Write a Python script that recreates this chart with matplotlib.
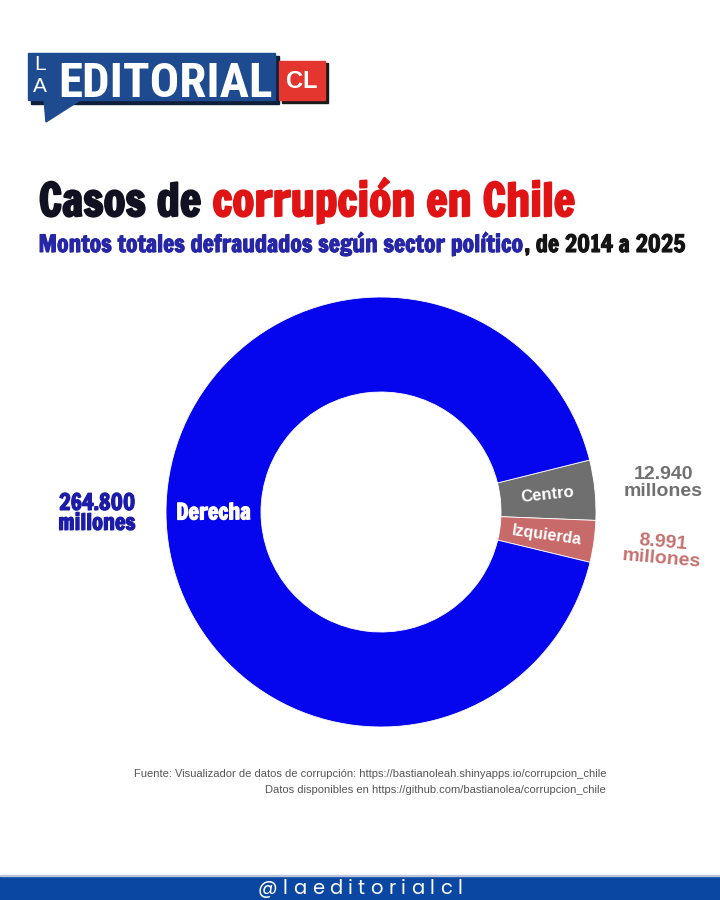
import matplotlib
matplotlib.use("Agg")
import numpy as np
import matplotlib.pyplot as plt
import matplotlib.patheffects as pe
from matplotlib.patches import Rectangle, Polygon

W, H = 720, 900

# data
sectors = ["Centro", "Izquierda", "Derecha"]
amounts = [12940, 8991, 264800]  # millones de pesos
amount_labels = ["12.940\nmillones", "8.991\nmillones", "264.800\nmillones"]

title_dark = "Casos de"
title_red = "corrupción en Chile"
subtitle_blue = "Montos totales defraudados según sector político"
subtitle_dark = ", de 2014 a 2025"
source_lines = [
    "Fuente: Visualizador de datos de corrupción: https://bastianoleah.shinyapps.io/corrupcion_chile",
    "Datos disponibles en https://github.com/bastianolea/corrupcion_chile",
]
handle = "@laeditorialcl"

wedge_colors = ["#6f6f6f", "#c86a6a", "#0606ee"]
value_colors = ["#707070", "#c47070", "#1c1ca8"]

WIDE_HEAVY = ["Francois One", "Fjalla One", "Anton", "DejaVu Sans"]
NARROW = ["Roboto Condensed", "Archivo Narrow", "Oswald", "DejaVu Sans"]
SANS = ["Liberation Sans", "DejaVu Sans"]
ROUND = ["Poppins", "Montserrat", "Roboto", "DejaVu Sans"]

fig = plt.figure(figsize=(7.2, 9), dpi=100)
fig.patch.set_facecolor("white")
ax = fig.add_axes([0, 0, 1, 1])
renderer = fig.canvas.get_renderer()


def Y(y):
    return H - y


def bold_fx(color, lw):
    # thicken the glyphs a little, the reference font is heavier
    if lw <= 0:
        return []
    return [pe.withStroke(linewidth=lw, foreground=color)]


def fitted(x, y, s, width, **kw):
    t = ax.text(x, Y(y), s, fontsize=10, **kw)
    w = t.get_window_extent(renderer).width
    t.set_fontsize(10 * width / w)
    return t


def fitted_parts(x, y, parts, width, lw=0, **kw):
    # parts: list of (text, color), joined with a space
    probe = [ax.text(0, 0, s, fontsize=10, **kw) for s, _ in parts]
    widths = [p.get_window_extent(renderer).width for p in probe]
    sp = ax.text(0, 0, "a a", fontsize=10, **kw)
    nsp = ax.text(0, 0, "aa", fontsize=10, **kw)
    space = sp.get_window_extent(renderer).width - nsp.get_window_extent(renderer).width
    for p in probe + [sp, nsp]:
        p.remove()
    gaps = [space if not s.startswith(",") else 0 for s, _ in parts[1:]] + [0]
    total = sum(widths) + sum(gaps)
    scale = (width - lw) / total
    cx = x + lw / 2
    for (s, c), w, g in zip(parts, widths, gaps):
        ax.text(cx, Y(y), s, fontsize=10 * scale, color=c, ha="left", va="baseline",
                path_effects=bold_fx(c, lw), **kw)
        cx += (w + g) * scale
    return 10 * scale


# --- logo ---
logo_blue = "#1e4a8f"
ax.add_patch(Rectangle((31, Y(104)), 248, 48, color="#0f1f3a", zorder=1))
ax.add_patch(Rectangle((28, Y(100)), 247, 47, color=logo_blue, zorder=2))
ax.add_patch(Polygon([(44, Y(99)), (82, Y(99)), (46, Y(122))], closed=True,
                     color=logo_blue, zorder=2))
fitted(58, 97, "EDITORIAL", 214, color="white", family=NARROW,
       fontweight="bold", ha="left", va="baseline", zorder=3)
ax.text(40, Y(65), "L", color="white", family=SANS,
        fontsize=15, ha="center", va="center", zorder=3)
ax.text(40, Y(87), "A", color="white", family=SANS,
        fontsize=15, ha="center", va="center", zorder=3)
ax.add_patch(Rectangle((282, Y(103)), 46, 40, color="#1a1a1a", zorder=1))
ax.add_patch(Rectangle((279, Y(100)), 46, 39, color="#e5352f", zorder=2))
ax.text(302, Y(81), "CL", color="white", family=SANS, fontweight="bold",
        fontsize=17, ha="center", va="center", zorder=3)

# --- titles ---
fitted_parts(38, 216, [(title_dark, "#111122"), (title_red, "#e01414")], 539,
             lw=1.5, family=WIDE_HEAVY)
fitted_parts(38, 252, [(subtitle_blue, "#2626a6"), (subtitle_dark, "#141414")], 648,
             lw=0.8, family=WIDE_HEAVY)

# --- donut ---
cx, cy, R, r_in = 381, 512, 215, 120
wedges, _ = ax.pie(amounts, colors=wedge_colors, startangle=14, counterclock=False,
                   radius=R, center=(cx, Y(cy)),
                   wedgeprops=dict(width=R - r_in, edgecolor="white", linewidth=0.6))

inner_fonts = [dict(family=SANS, fontweight="bold", fontsize=12),
               dict(family=SANS, fontweight="bold", fontsize=11.5),
               dict(family=WIDE_HEAVY, fontsize=16)]
outer_fonts = [dict(family=SANS, fontweight="bold", fontsize=14),
               dict(family=SANS, fontweight="bold", fontsize=14),
               dict(family=WIDE_HEAVY, fontsize=16)]
outer_rot = [0, -5, 0]
heavy_lw = [0, 0, 0.9]

for w, name, lab, vc, fi, fo, ro, lw in zip(wedges, sectors, amount_labels, value_colors,
                                            inner_fonts, outer_fonts, outer_rot, heavy_lw):
    mid = np.deg2rad((w.theta1 + w.theta2) / 2)
    rot = np.rad2deg(mid)
    if np.cos(mid) < 0:
        rot -= 180
    rot = (rot + 180) % 360 - 180
    rm = (R + r_in) / 2
    ax.text(cx + rm * np.cos(mid), Y(cy) + rm * np.sin(mid), name, color="white",
            rotation=rot, rotation_mode="anchor", ha="center", va="center",
            path_effects=bold_fx("white", lw), **fi)
    ro_r = 284
    ax.text(cx + ro_r * np.cos(mid), Y(cy) + ro_r * np.sin(mid), lab, color=vc,
            rotation=ro, ha="center", va="center", linespacing=0.95,
            path_effects=bold_fx(vc, lw), **fo)

ax.set_xlim(0, W)
ax.set_ylim(0, H)
ax.set_aspect("auto")
ax.axis("off")

# --- source ---
t = fitted(606, 777, source_lines[0], 468, color="#555555", family=SANS,
           ha="right", va="baseline")
ax.text(606, Y(793), source_lines[1], color="#555555", family=SANS,
        fontsize=t.get_fontsize(), ha="right", va="baseline")

# --- footer ---
ax.add_patch(Rectangle((0, 0), W, 24, color="#0a47a3", zorder=2))
ax.add_patch(Rectangle((0, 24), W, 1.2, color="#b9c6dc", zorder=2))
fs = 14
chars = [ax.text(0, 0, ch, fontsize=fs, family=ROUND) for ch in handle]
cw = [c.get_window_extent(renderer).width for c in chars]
for c in chars:
    c.remove()
track = (204 - sum(cw)) / (len(handle) - 1)
px = 258
for ch, w in zip(handle, cw):
    ax.text(px, 11.5, ch, fontsize=fs, family=ROUND, color="white",
            ha="left", va="center", zorder=3)
    px += w + track

fig.savefig("out.png", dpi=100, facecolor="white")
